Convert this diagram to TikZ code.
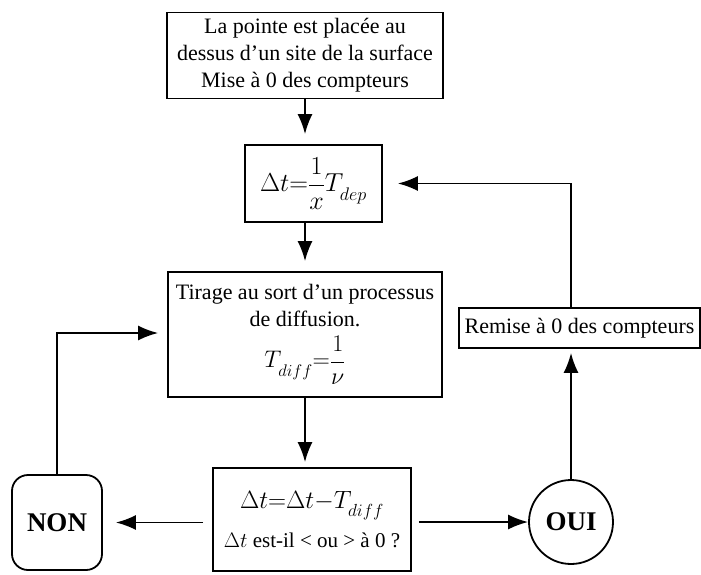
\documentclass[tikz,border=0pt]{standalone}
\usepackage{fix-cm}
\usepackage{fontspec}
\setmainfont{Liberation Serif}
\usetikzlibrary{arrows.meta}
\begin{document}
\begin{tikzpicture}[x=1pt,y=-1pt,
  box/.style={draw,line width=1.8pt,inner sep=0pt,align=center},
  arr/.style={line width=1.8pt,-{Latex[length=20pt,width=15pt]}},
  txt/.style={font=\fontsize{22}{27}\selectfont},
  bigb/.style={font=\bfseries\fontsize{27}{30}\selectfont}]
\useasboundingbox (0,0) rectangle (701,574);
\node[box,txt,minimum width=276pt,minimum height=86pt] (top) at (305,55.5)
  {La pointe est placée au\\dessus d'un site de la surface\\Mise à 0 des compteurs};
\node[box,minimum width=137pt,minimum height=77pt,font=\fontsize{26}{30}\selectfont] (dt) at (313.5,183.5)
  {$\displaystyle\Delta t{=}\frac{1}{x}T_{\lower5pt\hbox{$\scriptstyle dep$}}$};
\node[box,txt,minimum width=274pt,minimum height=125pt] (tir) at (305,334.5)
  {Tirage au sort d'un processus\\de diffusion.\\[8pt]
   {\fontsize{24}{28}\selectfont$\displaystyle T_{\lower5pt\hbox{$\scriptstyle diff$}}{=}\frac{1}{\nu}$}};
\node[box,minimum width=198pt,minimum height=103pt] (b4) at (312,519.5)
  {{\fontsize{25}{28}\selectfont$\Delta t{=}\Delta t{-}T_{\lower5pt\hbox{$\scriptstyle diff$}}$}\\[12pt]
   {\fontsize{21}{24}\selectfont$\Delta t$ est-il < ou > à 0 ?}};
\node[box,bigb,rounded corners=16pt,minimum width=90pt,minimum height=95pt] (non) at (57,522.5) {NON};
\node[box,bigb,circle,minimum size=84pt] (oui) at (571,522) {OUI};
\node[box,txt,minimum width=241pt,minimum height=40pt] (rem) at (579.5,328) {Remise à 0 des compteurs};
\draw[arr,shorten >=10pt] (top.south) -- (top.south |- dt.north);
\draw[arr,shorten >=10pt] (tir.north |- dt.south) -- (tir.north);
\draw[arr,shorten >=5pt] (tir.south) -- (tir.south |- b4.north);
\draw[arr,shorten <=9pt,shorten >=13pt] (b4.west |- non.east) -- (non.east);
\draw[arr,shorten <=7pt] (b4.east |- oui.west) -- (oui.west);
\draw[arr,shorten >=4pt] (oui.north) -- (oui.north |- rem.south);
\draw[arr,shorten >=15pt] (oui.north |- rem.north) |- (dt.east);
\draw[arr,shorten >=9pt] (non.north) |- ([yshift=1.5pt]tir.west);
\end{tikzpicture}
\end{document}
